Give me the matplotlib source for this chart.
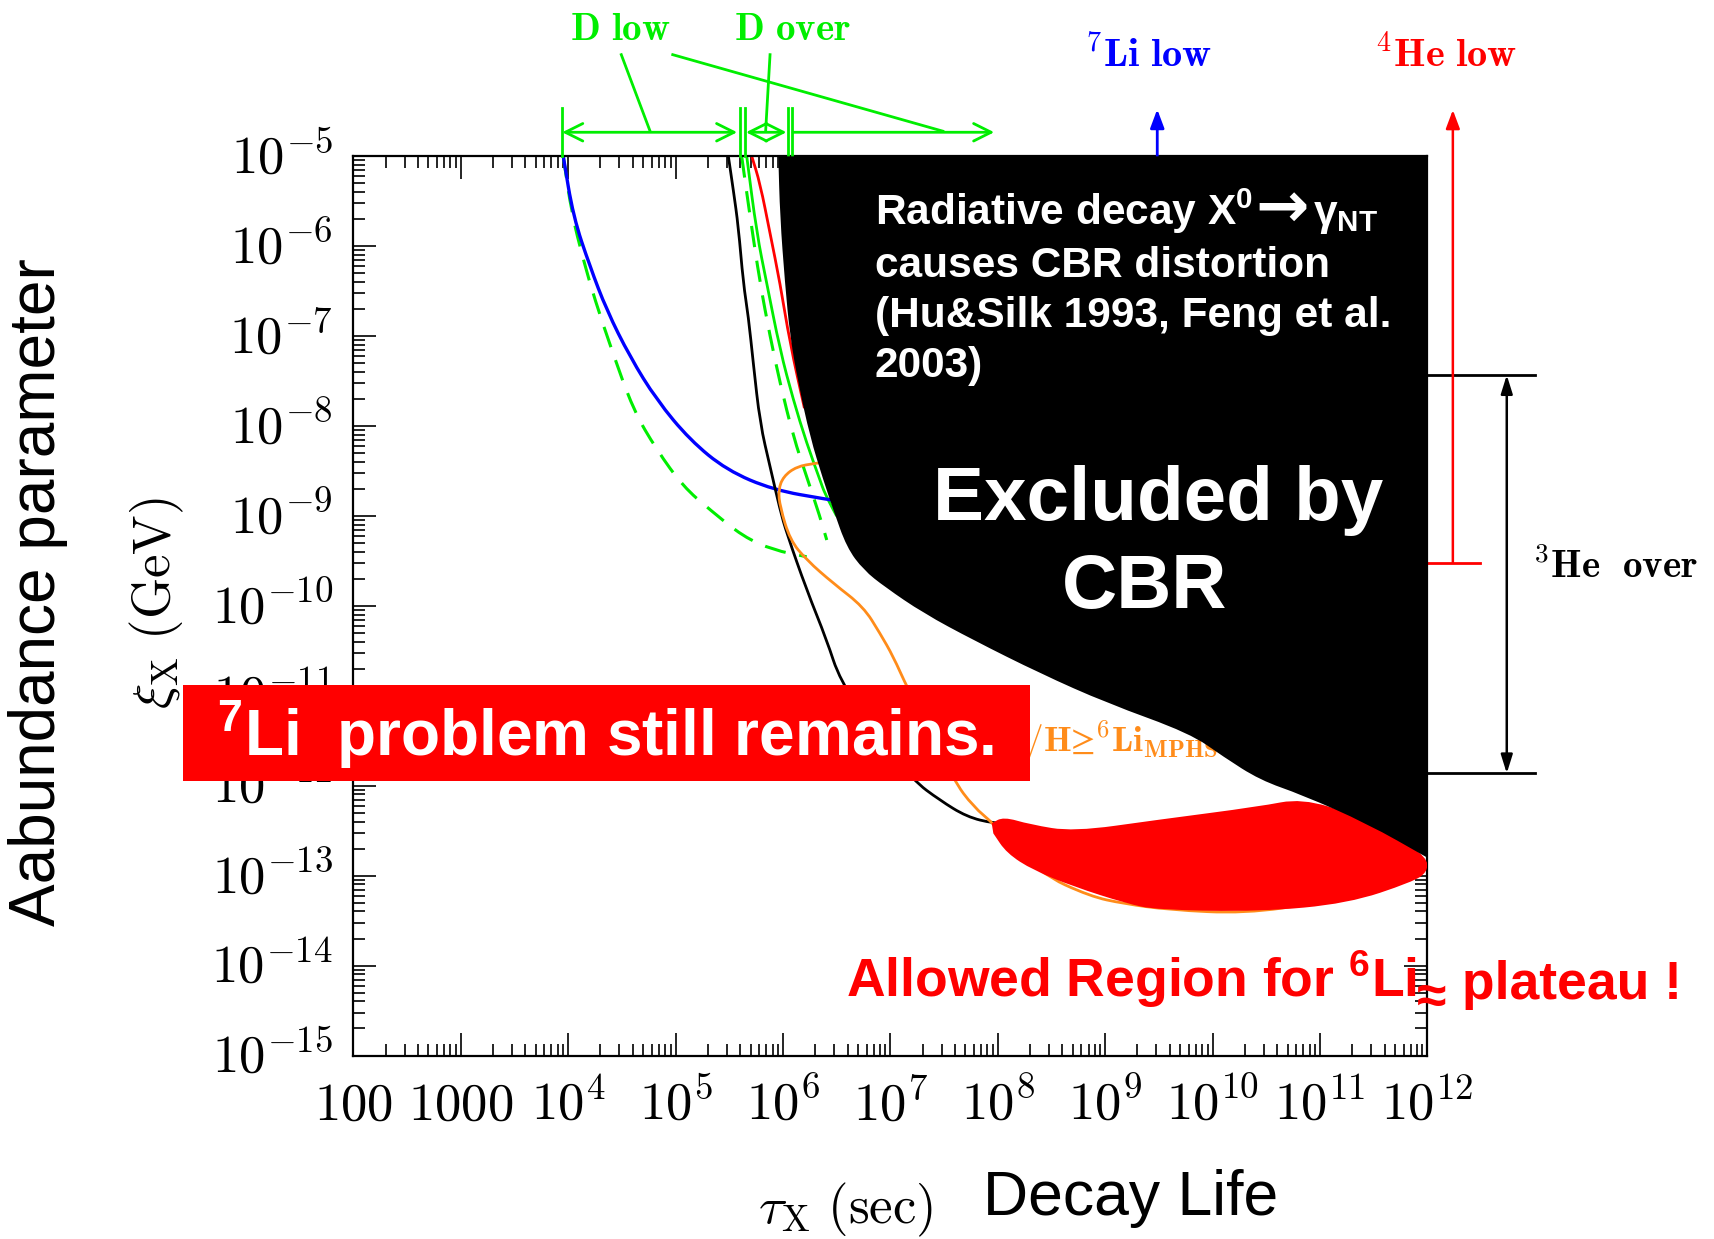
import matplotlib.pyplot as plt
import numpy as np
from matplotlib import rcParams
from matplotlib.patches import FancyArrowPatch, PathPatch, Rectangle
from matplotlib.path import Path
from matplotlib.ticker import FixedLocator, LogLocator, NullFormatter
from matplotlib.transforms import ScaledTranslation

rcParams['font.family'] = ['Liberation Sans', 'DejaVu Sans']
rcParams['mathtext.fontset'] = 'custom'
rcParams['mathtext.rm'] = 'Liberation Sans:bold'
rcParams['mathtext.it'] = 'Liberation Sans:italic:bold'
rcParams['mathtext.bf'] = 'Liberation Sans:bold'

# all curves as log10(tau_X / sec), log10(xi_X / GeV)
li7_low_tau = [3.955, 4.048, 4.204, 4.359, 4.576, 4.825, 5.135, 5.477, 5.91, 6.408, 6.6]
li7_low_xi = [-5.0, -5.67, -6.227, -6.71, -7.23, -7.71, -8.155, -8.49, -8.71, -8.814, -8.85]

he3_tau = [5.492, 5.538, 5.585, 5.631, 5.678, 5.724, 5.787, 5.88, 5.973, 6.035, 6.221,
           6.408, 6.53, 6.857, 7.213, 7.46, 7.711, 7.959, 8.3]
he3_xi = [-5.0, -5.374, -5.78, -6.41, -6.78, -7.30, -7.97, -8.45, -8.93, -9.19, -9.823,
          -10.38, -10.825, -11.41, -11.94, -12.16, -12.345, -12.418, -12.45]

he4_low_tau = [5.71, 5.787, 5.88, 5.973, 6.066, 6.2]
he4_low_xi = [-5.0, -5.3, -5.855, -6.41, -7.08, -7.8]

d_over_tau = [5.663, 5.756, 5.849, 5.973, 6.097, 6.221, 6.345, 6.39, 6.5]
d_over_xi = [-5.0, -5.855, -6.41, -7.153, -7.71, -8.19, -8.6, -8.75, -9.0]

d_low_a_tau = [3.955, 4.033, 4.142, 4.25, 4.406, 4.607, 4.825, 5.073, 5.32, 5.631, 5.91, 6.221]
d_low_a_xi = [-5.0, -5.633, -6.152, -6.597, -7.153, -7.82, -8.265, -8.674, -8.93, -9.23, -9.378, -9.453]

d_low_b_tau = [5.616, 5.694, 5.787, 5.88, 5.973, 6.097, 6.221, 6.345, 6.408]
d_low_b_xi = [-5.0, -5.67, -6.41, -7.0, -7.52, -8.118, -8.563, -9.008, -9.267]

li6_tau = [6.4, 6.299, 6.128, 6.004, 5.957, 5.973, 6.066, 6.221, 6.469, 6.749, 6.904, 7.028,
           7.153, 7.587, 7.773, 7.959, 8.394, 8.86, 9.17, 9.6, 10.3, 11.0, 11.6, 12.0]
li6_xi = [-8.40, -8.414, -8.45, -8.56, -8.71, -8.897, -9.267, -9.49, -9.749, -10.009, -10.305,
          -10.565, -10.899, -11.936, -12.233, -12.418, -12.975, -13.23, -13.31, -13.38, -13.42,
          -13.3, -13.1, -12.9]

# lower-left edge of the region excluded by CBR distortion
cbr_tau = [5.957, 5.973, 6.019, 6.066, 6.143, 6.252, 6.376, 6.469, 6.594, 6.75, 6.95, 7.307,
           7.773, 8.394, 9.015, 9.79, 10.1, 10.44, 10.83, 11.44, 12.0]
cbr_xi = [-5.0, -5.67, -6.41, -7.0, -7.52, -8.118, -8.6, -8.93, -9.35, -9.6, -9.79, -10.08,
          -10.38, -10.75, -11.08, -11.417, -11.677, -11.936, -12.10, -12.42, -12.8]

# allowed region for the 6Li plateau
allowed_tau = [7.944, 8.052, 8.30, 8.704, 9.48, 10.44, 10.83, 11.32, 11.7, 12.0, 12.0, 11.86,
               11.26, 10.44, 9.48, 9.2, 8.704, 8.331, 8.083, 7.959]
allowed_xi = [-12.418, -12.345, -12.43, -12.51, -12.38, -12.23, -12.14, -12.32, -12.55, -12.80,
              -12.96, -13.07, -13.31, -13.40, -13.38, -13.31, -13.12, -12.94, -12.75, -12.53]

x_ticks = 10.0 ** np.arange(2, 13)
x_labels = ['$100$', '$1000$'] + ['$10^{%d}$' % k for k in range(4, 13)]
y_ticks = 10.0 ** np.arange(-15, -4)
y_labels = ['$10^{%d}$' % k for k in range(-15, -4)]

GREEN = '#00ee00'
ORANGE = '#ff8c1a'


def P(lt, lx):
    return 10.0 ** np.asarray(lt, dtype=float), 10.0 ** np.asarray(lx, dtype=float)


def smooth(lt, lx, extra=()):
    # quadratic b-spline through the read points (built in log space)
    p = np.column_stack([lt, lx]).astype(float)
    verts = [p[0], (p[0] + p[1]) / 2]
    codes = [Path.MOVETO, Path.LINETO]
    for i in range(1, len(p) - 1):
        verts += [p[i], (p[i] + p[i + 1]) / 2]
        codes += [Path.CURVE3, Path.CURVE3]
    verts.append(p[-1])
    codes.append(Path.LINETO)
    for v in extra:
        verts.append(np.array(v, dtype=float))
        codes.append(Path.LINETO)
    return Path(10.0 ** np.array(verts), codes)


def curve(ax, lt, lx, color, lw=2.0, ls='-', z=2):
    ax.add_patch(PathPatch(smooth(lt, lx), fill=False, ec=color, lw=lw, ls=ls,
                           capstyle='butt', zorder=z))


def arrow(ax, a, b, style, color, lw=2.0, ms=14):
    ax.add_patch(FancyArrowPatch(P(*a), P(*b), arrowstyle=style, color=color, lw=lw,
                                 mutation_scale=ms, shrinkA=0, shrinkB=0, clip_on=False,
                                 transform=ax.transData, zorder=3))


fig = plt.figure(figsize=(17.15, 12.39), dpi=100)
ax = fig.add_axes([0.2060, 0.1481, 0.6263, 0.7257])
ax.set_xscale('log')
ax.set_yscale('log')
ax.set_xlim(1e2, 1e12)
ax.set_ylim(1e-15, 1e-5)
for s in ax.spines.values():
    s.set_linewidth(1.6)

ax.xaxis.set_major_locator(FixedLocator(x_ticks))
ax.yaxis.set_major_locator(FixedLocator(y_ticks))
ax.xaxis.set_minor_locator(LogLocator(base=10, subs=np.arange(2, 10), numticks=100))
ax.yaxis.set_minor_locator(LogLocator(base=10, subs=np.arange(2, 10), numticks=100))
ax.xaxis.set_minor_formatter(NullFormatter())
ax.yaxis.set_minor_formatter(NullFormatter())
ax.tick_params(which='both', direction='in', top=True, right=True, width=1.2)
ax.tick_params(which='major', length=16.5)
ax.tick_params(which='minor', length=8.5)
ax.tick_params(axis='x', pad=46)
ax.tick_params(axis='y', pad=14.5)
ax.set_xticks(x_ticks, x_labels, fontsize=38, math_fontfamily='cm')
ax.set_yticks(y_ticks, y_labels, fontsize=38, math_fontfamily='cm')
for lab in ax.get_xticklabels():
    lab.set_verticalalignment('baseline')
for lab in ax.get_yticklabels():
    lab.set_verticalalignment('baseline')
    lab.set_transform(lab.get_transform() + ScaledTranslation(0, -0.17, fig.dpi_scale_trans))

# constraint curves
curve(ax, d_low_a_tau, d_low_a_xi, GREEN, lw=2.2, ls=(0, (7, 4.5)))
curve(ax, d_low_b_tau, d_low_b_xi, GREEN, lw=2.2, ls=(0, (7, 4.5)))
curve(ax, d_over_tau, d_over_xi, GREEN)
curve(ax, li7_low_tau, li7_low_xi, 'blue', lw=2.4)
curve(ax, he3_tau, he3_xi, 'black')
curve(ax, he4_low_tau, he4_low_xi, 'red')
curve(ax, li6_tau, li6_xi, ORANGE)
ax.text(*P(7.82, -11.622), r'${}^{\mathbf{6}}\mathbf{Li/H}≥{}^{\mathbf{6}}\mathbf{Li}_{\mathbf{MPHS}}$',
        math_fontfamily='cm', color=ORANGE, fontsize=25.5, va='baseline', zorder=3)

allowed = smooth(allowed_tau, allowed_xi, extra=[(allowed_tau[0], allowed_xi[0])])
ax.add_patch(PathPatch(allowed, fc='#ff0000', ec='none', zorder=4))
excluded = smooth(cbr_tau, cbr_xi, extra=[(12.0, -5.0), (cbr_tau[0], cbr_xi[0])])
ax.add_patch(PathPatch(excluded, fc='black', ec='none', zorder=5))

# D markers above the frame
ytop = -4.732
for lt in [3.945, 5.60, 5.646, 6.043, 6.084]:
    ax.plot(*P([lt, lt], [-4.465, -5.0]), color=GREEN, lw=2.0, clip_on=False, zorder=3)
arrow(ax, (3.945, ytop), (5.574, ytop), '<->,head_length=0.9,head_width=0.45', GREEN)
arrow(ax, (5.656, ytop), (6.033, ytop), '<->,head_length=0.9,head_width=0.45', GREEN)
arrow(ax, (6.094, ytop), (7.967, ytop), '->,head_length=0.9,head_width=0.45', GREEN)
ax.plot(*P([4.495, 4.76], [-3.869, -4.71]), color=GREEN, lw=2.0, clip_on=False)
ax.plot(*P([4.974, 7.489], [-3.869, -4.72]), color=GREEN, lw=2.0, clip_on=False)
ax.plot(*P([5.88, 5.839], [-3.869, -4.72]), color=GREEN, lw=2.0, clip_on=False)
ax.text(*P(4.485, -3.71), r'$\mathbf{D\ low}$', math_fontfamily='cm', color=GREEN,
        fontsize=28, ha='center', va='baseline')
ax.text(*P(6.084, -3.71), r'$\mathbf{D\ over}$', math_fontfamily='cm', color=GREEN,
        fontsize=28, ha='center', va='baseline')

# 7Li and 4He markers
arrow(ax, (9.485, -5.0), (9.485, -4.477), '-|>,head_length=0.8,head_width=0.3', 'blue')
ax.text(*P(9.40, -4.0), r'${}^{\mathbf{7}}\mathbf{Li\ low}$', math_fontfamily='cm',
        color='blue', fontsize=29, ha='center', va='baseline')
arrow(ax, (12.237, -9.52), (12.237, -4.484), '-|>,head_length=0.8,head_width=0.3', 'red', lw=1.8)
ax.plot(*P([12.0, 12.49], [-9.52, -9.52]), color='red', lw=2.0, clip_on=False)
ax.text(*P(12.173, -4.0), r'${}^{\mathbf{4}}\mathbf{He\ low}$', math_fontfamily='cm',
        color='red', fontsize=29, ha='center', va='baseline')

# 3He band on the right
for lx in [-7.432, -11.862]:
    ax.plot(*P([12.0, 13.0], [lx, lx]), color='black', lw=2.0, clip_on=False)
arrow(ax, (12.739, -7.432), (12.739, -11.862), '<|-|>,head_length=0.8,head_width=0.25', 'black', lw=1.8)
ax.text(*P(12.987, -9.693), r'${}^{\mathbf{3}}\mathbf{He\ \ over}$', math_fontfamily='cm',
        color='black', fontsize=28, ha='left', va='baseline')

# notes on the excluded region
FS_NOTE = 30.5
FS_ARROW = 46
t_a = ax.text(0.4857, 0.9237, r'Radiative decay X$^{0}$', transform=ax.transAxes,
              color='white', fontsize=FS_NOTE, fontweight='bold', va='baseline', zorder=6)
t_b = ax.annotate('→', xy=(1, 0), xycoords=t_a, xytext=(2, 0.21 * FS_NOTE),
                  textcoords='offset points', color='white', fontsize=FS_ARROW,
                  family='DejaVu Sans', fontweight='bold', va='baseline', zorder=6)
ax.annotate(r'γ$_{\rm NT}$', xy=(1, 0), xycoords=t_b, xytext=(3, 0.236 * FS_ARROW),
            textcoords='offset points', color='white', fontsize=FS_NOTE,
            fontweight='bold', va='baseline', zorder=6)
note = ['causes CBR distortion', '(Hu&Silk 1993, Feng et al.', '2003)']
for line, yb in zip(note, [0.8662, 0.8106, 0.7550]):
    ax.text(0.4857, yb, line, transform=ax.transAxes, color='white', fontsize=FS_NOTE,
            fontweight='bold', va='baseline', zorder=6)
ax.text(0.749, 0.5956, 'Excluded by', transform=ax.transAxes, color='white', fontsize=55,
        fontweight='bold', ha='center', va='baseline', zorder=6)
ax.text(0.737, 0.4974, 'CBR', transform=ax.transAxes, color='white', fontsize=55,
        fontweight='bold', ha='center', va='baseline', zorder=6)

# allowed-region caption, with the approx sign dropped below the line
t1 = ax.text(0.4584, 0.0503, r'Allowed Region for $^{6}$Li', transform=ax.transAxes,
             color='#ff0000', fontsize=38.5, fontweight='bold', va='bottom', zorder=7)
t2 = ax.annotate('≈', xy=(1, 0), xycoords=t1, xytext=(0.5, -10), textcoords='offset points',
                 color='#ff0000', fontsize=38.5, fontweight='bold', va='bottom', zorder=7)
ax.annotate(' plateau !', xy=(1, 0), xycoords=t2, xytext=(0, 10), textcoords='offset points',
            color='#ff0000', fontsize=38.5, fontweight='bold', va='bottom', zorder=7)

# banner across the left part
fig.add_artist(Rectangle((0.1065, 0.3699), 0.4941, 0.0772, transform=fig.transFigure,
                         fc='#ff0000', ec='none', zorder=10))
fig.text(0.1265, 0.3898, r'$^{7}$Li  problem still remains.', color='white', fontsize=46,
         fontweight='bold', va='baseline', zorder=11)

# axis titles
fig.text(0.0222, 0.522, 'Aabundance parameter', rotation=90, fontsize=46,
         ha='center', va='center')
fig.text(0.0918, 0.513, r'$\xi_{\rm X}\ ({\rm GeV})$', rotation=90, math_fontfamily='cm',
         fontsize=38, ha='center', va='center')
fig.text(0.442, 0.0129, r'$\tau_{\rm X}\ ({\rm sec})$', math_fontfamily='cm', fontsize=38,
         va='baseline')
fig.text(0.573, 0.0194, 'Decay Life', fontsize=45, va='baseline')

fig.savefig('out.png', dpi=100)
